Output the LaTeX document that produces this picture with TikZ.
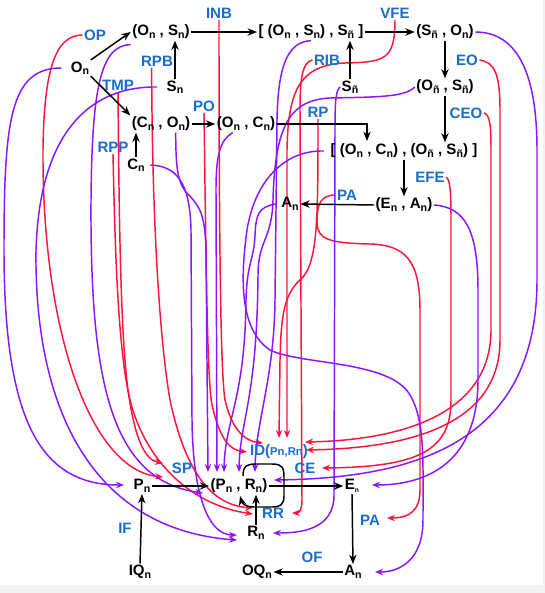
\documentclass[tikz,border=0pt]{standalone}
\usepackage{fontspec}
\setmainfont{Liberation Sans}
\usetikzlibrary{arrows.meta}
\definecolor{cred}{RGB}{255,20,60}
\definecolor{cpur}{RGB}{140,20,255}
\definecolor{cblue}{RGB}{25,110,205}
\newcommand\sbs[1]{\raisebox{-0.3ex}{\fontsize{8}{8}\selectfont #1}}
\pgfdeclarelayer{bg}
\pgfsetlayers{bg,main}
\tikzset{
  txt/.style={font=\bfseries\fontsize{11.3}{13}\selectfont, inner sep=1pt},
  lab/.style={txt, text=cblue},
  blk/.style={draw=black, line width=1.1pt, -{Stealth[length=7pt,width=5.5pt]}},
  redc/.style={draw=cred, line width=1.1pt, -{Stealth[length=6pt,width=4.8pt]}},
  purc/.style={draw=cpur, line width=1.1pt, -{Stealth[length=6pt,width=4.8pt]}}
}
\begin{document}
\begin{tikzpicture}[x=0.75pt,y=-0.75pt]
\useasboundingbox (0,0) rectangle (545,593);
% black nodes
\node[txt] (On) at (80,68) {O\sbs{n}};
\node[txt] (OnSn) at (161,32) {(O\sbs{n} , S\sbs{n})};
\node[txt] (Sn) at (175,87) {S\sbs{n}};
\node[txt] (OSS) at (311,32) {[ (O\sbs{n} , S\sbs{n}) , S\sbs{ñ} ]};
\node[txt] (Snt) at (350,87) {S\sbs{ñ}};
\node[txt] (SO) at (445,32) {(S\sbs{ñ} , O\sbs{n})};
\node[txt] (OS2) at (445,87) {(O\sbs{ñ} , S\sbs{ñ})};
\node[txt] (CO) at (161,124) {(C\sbs{n} , O\sbs{n})};
\node[txt] (OC) at (246,124) {(O\sbs{n} , C\sbs{n})};
\node[txt] (OCOS) at (404,151) {[ (O\sbs{n} , C\sbs{n}) , (O\sbs{ñ} , S\sbs{ñ}) ]};
\node[txt] (Cn) at (136,165) {C\sbs{n}};
\node[txt] (An1) at (290,204) {A\sbs{n}};
\node[txt] (EA) at (404,205) {(E\sbs{n} , A\sbs{n})};
\node[txt] (Pn) at (142,486) {P\sbs{n}};
\node[txt] (PR) at (239,486) {(P\sbs{n} , R\sbs{n})};
\node[txt] (En) at (352,486) {E\raisebox{-0.3ex}{\fontsize{5}{5}\selectfont n}};
\node[txt] (Rn) at (256,533) {R\sbs{n}};
\node[txt] (IQ) at (140,572) {IQ\sbs{n}};
\node[txt] (OQ) at (257,572) {OQ\sbs{n}};
\node[txt] (An2) at (353,572) {A\sbs{n}};
% labels
\node[lab] (OP) at (95,35) {OP};
\node[lab] (INB) at (219,13) {INB};
\node[lab] (VFE) at (395,13) {VFE};
\node[lab] (RPB) at (157,61) {RPB};
\node[lab] (RIB) at (327,60) {RIB};
\node[lab] (EO) at (467,60) {EO};
\node[lab] (TMP) at (118,85) {TMP};
\node[lab] (PO) at (204,106) {PO};
\node[lab] (RP) at (318,112) {RP};
\node[lab] (CEO) at (466,113) {CEO};
\node[lab] (RPP) at (113,147) {RPP};
\node[lab] (EFE) at (430,177) {EFE};
\node[lab] (PAm) at (347,195) {PA};
\node[lab] (SP) at (182,468) {SP};
\node[lab] (ID) at (279,452) {ID({\fontsize{8.5}{9}\selectfont Pn,Rn})};
\node[lab] (CE) at (305,468) {CE};
\node[lab] (RR) at (273,513) {RR};
\node[lab] (IF) at (125,528) {IF};
\node[lab] (PAb) at (370,520) {PA};
\node[lab] (OF) at (312,557) {OF};
% named free ends
\coordinate (OCin) at (367,141);
\coordinate (L1) at (243,476);
\coordinate (L2) at (240,496);
\coordinate (spA) at (163,463);
\coordinate (spB) at (163,477);
\coordinate (rrA) at (253,508);
\coordinate (rrB) at (253,514);
\coordinate (idA) at (247,452);
\coordinate (idB) at (263,443);
\coordinate (idC) at (279,438);
\coordinate (idD) at (287,438);
\coordinate (rrC) at (292,513);
\coordinate (idE) at (305,442);
\coordinate (idF) at (306,450);
\coordinate (ceA) at (322,468);
\coordinate (paA) at (387,518);
\coordinate (pnA) at (124,485);
\coordinate (prA) at (203,493);
\coordinate (rnA) at (237,535);
\coordinate (rnB) at (237,540);
\coordinate (prT1) at (208,472);
\coordinate (prT2) at (217,472);
\coordinate (prT3) at (224,472);
\coordinate (prT4) at (239,472);
\coordinate (prT5) at (255,472);
\coordinate (prR) at (274,480);
\coordinate (enA) at (372,485);
\coordinate (rnC) at (273,533);
\coordinate (anA) at (375,572);
% black arrows
\draw[blk] (On.north east) -- (OnSn.west);
\draw[blk] (On.south east) -- (CO.north west);
\draw[blk] (Sn.north) -- (Sn.north |- OnSn.south);
\draw[blk] (OnSn.east) -- (OSS.west);
\draw[blk] (Snt.north) -- (Snt.north |- OSS.south);
\draw[blk] (OSS.east) -- (SO.west);
\draw[blk] (SO.south) -- (OS2.north);
\draw[blk] (OS2.south) -- (OS2.south |- OCOS.north);
\draw[blk] (Cn.north) -- (Cn.north |- CO.south);
\draw[blk] (CO.east) -- (OC.west);
\draw[blk] (OC.east) -| (OCin);
\draw[blk] (OCOS.south) -- (OCOS.south |- EA.north);
\draw[blk] (EA.west) -- (An1.east);
\draw[blk] (Pn.east) -- (PR.west);
\draw[blk] (PR.east) -- (En.west);
\draw[blk] (En.south) -- (An2.north);
\draw[blk] (An2.west) -- (OQ.east);
\draw[blk] (IQ.north) -- (Pn.south);
\draw[blk] (Rn.north) -- (Rn.north |- PR.south);
\draw[blk] (L1) .. controls (243,465) and (248,464) .. (256,464) -- (272,464) .. controls (283,464) and (284,468) .. (284,478) -- (284,496) .. controls (284,505) and (280,507) .. (272,507) -- (254,507) .. controls (245,507) and (242,503) .. (L2);
\begin{pgfonlayer}{bg}
\fill[white] (0,0) rectangle (545,593);
\fill[gray!10] (0,585) rectangle (545,593);
\fill[gray!10] (543,0) rectangle (545,593);
% red curves
\draw[redc] (OP.west) .. controls (55,35) and (44,70) .. (43,150) .. controls (42,330) and (90,470) .. (spB);
\draw[redc] (TMP.south) .. controls (119,200) and (120,330) .. (128,390) .. controls (135,440) and (145,460) .. (spA);
\draw[redc] (RPP.south) .. controls (115,250) and (118,350) .. (130,400) .. controls (145,460) and (190,505) .. (rrB);
\draw[redc] ([xshift=-4pt]RPB.south) .. controls (152,200) and (158,330) .. (170,400) .. controls (185,470) and (210,505) .. (rrA);
\draw[redc] (PO.south) .. controls (206,250) and (207,380) .. (212,405) .. controls (220,440) and (230,450) .. (idA);
\draw[redc] (INB.south) .. controls (219,200) and (220,370) .. (225,400) .. controls (232,430) and (245,441) .. (idB);
\draw[redc] (VFE.south) .. controls (395,60) and (385,62) .. (345,63) .. controls (300,65) and (288,90) .. (287,150) -- (idD);
\draw[redc] (RP.south) .. controls (318,220) and (318,265) .. (300,280) .. controls (283,295) and (281,320) .. (280,360) -- (idC);
\draw[redc] (RIB.west) .. controls (302,62) and (300,80) .. (300,110) -- (302,500) .. controls (302,512) and (298,513) .. (rrC);
\draw[redc] (EO.east) .. controls (495,62) and (500,75) .. (500,110) -- (500,340) .. controls (500,420) and (420,448) .. (idF);
\draw[redc] (CEO.east) .. controls (490,115) and (491,125) .. (491,150) -- (491,330) .. controls (491,410) and (410,440) .. (idE);
\draw[redc] (EFE.east) .. controls (450,180) and (451,190) .. (451,220) -- (451,400) .. controls (451,450) and (420,467) .. (ceA);
\draw[redc] (PAm.west) .. controls (320,195) and (317,205) .. (317,222) .. controls (317,240) and (330,243) .. (370,244) .. controls (405,245) and (420,260) .. (420,310) -- (420,490) .. controls (420,510) and (410,518) .. (paA);
% purple curves
\draw[purc] ([xshift=-6pt]On.west) .. controls (10,68) and (4,120) .. (4,250) .. controls (4,420) and (40,485) .. (pnA);
\draw[purc] ([xshift=-6pt]Sn.west) .. controls (100,86) and (40,120) .. (36,250) .. controls (34,420) and (100,530) .. (rnB);
\draw[purc] ([yshift=-3pt]OnSn.south west) .. controls (100,45) and (92,90) .. (91,200) .. controls (90,380) and (110,480) .. (prA);
\draw[purc] ([xshift=3pt]Cn.east) .. controls (175,166) and (190,180) .. (191,230) -- (192,420) .. controls (193,500) and (210,535) .. (rnA);
\draw[purc] ([xshift=11pt]CO.south) .. controls (176,160) and (176,180) .. (186,192) .. controls (198,205) and (205,210) .. (206,250) -- (prT1);
\draw[purc] ([xshift=-10pt]OC.south) .. controls (220,140) and (216,155) .. (216,190) -- (prT2);
\draw[purc] (OSS.south) .. controls (290,42) and (278,60) .. (277,120) -- (275,300) .. controls (274,380) and (256,420) .. (prT5);
\draw[purc] (OS2.west) .. controls (405,97) and (380,97) .. (330,98) .. controls (290,100) and (275,125) .. (273,200) .. controls (272,240) and (258,240) .. (258,275) .. controls (257,400) and (240,420) .. (prT4);
\draw[purc] ([xshift=-3pt]An1.west) .. controls (258,207) and (256,215) .. (255,235) .. controls (254,260) and (247,262) .. (246,300) .. controls (245,400) and (225,420) .. (prT3);
\draw[purc] ([xshift=-4pt]OCOS.west) .. controls (285,150) and (255,180) .. (247,230) .. controls (240,280) and (240,330) .. (270,350) .. controls (300,365) and (390,360) .. (410,395) .. controls (425,420) and (423,460) .. (423,520) .. controls (423,560) and (400,572) .. (anA);
\draw[purc] (Snt.west) .. controls (336,90) and (335,100) .. (335,130) -- (334,495) .. controls (334,530) and (300,533) .. (rnC);
\draw[purc] (SO.east) .. controls (510,32) and (537,60) .. (537,150) -- (537,280) .. controls (537,440) and (420,478) .. (prR);
\draw[purc] (EA.east) .. controls (465,207) and (478,230) .. (478,290) -- (478,380) .. controls (478,460) and (430,485) .. (enA);
\end{pgfonlayer}
\end{tikzpicture}
\end{document}
